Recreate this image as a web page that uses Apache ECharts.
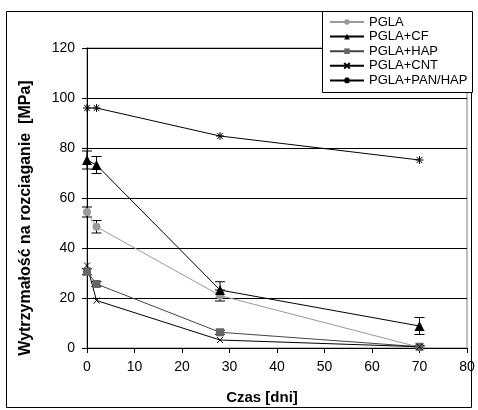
<!DOCTYPE html>
<html><head><meta charset="utf-8">
<script src="https://cdn.jsdelivr.net/npm/echarts@6/dist/echarts.min.js"></script>
<style>html,body{margin:0;padding:0;background:#fff}#c{width:478px;height:410px}</style>
</head><body><div id="c"></div>
<script>
const days = [0, 2, 28, 70];
const seriesNames = ['PGLA', 'PGLA+CF', 'PGLA+HAP', 'PGLA+CNT', 'PGLA+PAN/HAP'];
const pgla = [54.4, 48.5, 21, 0.3];
const pglaErr = [2, 2.5, 2.2, 0.5];
const pglaCF = [75.2, 73.2, 23.2, 8.8];
const pglaCFErr = [3.6, 3.4, 3.3, 3.4];
const pglaHAP = [30.5, 25.6, 6.3, 0.5];
const pglaHAPErr = [1.2, 1, 0.8, 0.5];
const pglaCNT = [33, 19, 3.2, 0.5];
const pglaPANHAP = [96, 96, 84.8, 75.2];
const xTicks = [0, 10, 20, 30, 40, 50, 60, 70, 80];
const yTicks = [0, 20, 40, 60, 80, 100, 120];

const pairs = v => days.map((d, i) => [d, v[i]]);
const errData = (v, e) => days.map((d, i) => [d, v[i] - e[i], v[i] + e[i]]);

function errSeries(v, e, color) {
  return {
    type: 'custom', silent: true, z: 3,
    data: errData(v, e),
    renderItem: function (params, api) {
      const x = api.value(0);
      const lo = api.coord([x, api.value(1)]);
      const hi = api.coord([x, api.value(2)]);
      const w = 5;
      return {
        type: 'group',
        children: [
          {type: 'line', shape: {x1: lo[0], y1: lo[1], x2: hi[0], y2: hi[1]}, style: {stroke: color, lineWidth: 1}},
          {type: 'line', shape: {x1: lo[0] - w, y1: lo[1], x2: lo[0] + w, y2: lo[1]}, style: {stroke: color, lineWidth: 1}},
          {type: 'line', shape: {x1: hi[0] - w, y1: hi[1], x2: hi[0] + w, y2: hi[1]}, style: {stroke: color, lineWidth: 1}}
        ]
      };
    }
  };
}

const xSym = 'path://M0,0L10,10M10,0L0,10';
const starSym = 'path://M0,5L10,5M1.5,1.5L8.5,8.5M8.5,1.5L1.5,8.5M5,0.5L5,9.5';

const chart = echarts.init(document.getElementById('c'), null, {renderer: 'canvas'});
chart.setOption({
  animation: false,
  backgroundColor: '#fff',
  textStyle: {fontFamily: 'Liberation Sans, Arial, sans-serif'},
  grid: {left: 87, right: 11, top: 48, bottom: 62, show: true, borderColor: '#808080', borderWidth: 1, backgroundColor: 'transparent'},
  xAxis: {
    type: 'value', min: 0, max: 80, interval: 10,
    name: 'Czas [dni]', nameLocation: 'middle', nameGap: 42,
    nameTextStyle: {fontWeight: 'bold', fontSize: 15, color: '#000', padding: [0, 30, 0, 0]},
    axisLine: {show: true, onZero: false, lineStyle: {color: '#000', width: 1}},
    axisTick: {show: true, inside: false, length: 5, lineStyle: {color: '#000'}},
    axisLabel: {fontSize: 14, color: '#000', margin: 12, formatter: v => xTicks.includes(v) ? String(v) : ''},
    splitLine: {show: false}
  },
  yAxis: {
    type: 'value', min: 0, max: 120, interval: 20,
    name: 'Wytrzymałość na rozciaganie  [MPa]', nameLocation: 'middle', nameGap: 53,
    nameTextStyle: {fontWeight: 'bold', fontSize: 16, color: '#000', padding: [0, 40, 0, 0]},
    axisLine: {show: true, lineStyle: {color: '#000', width: 1}},
    axisTick: {show: true, inside: false, length: 5, lineStyle: {color: '#000'}},
    axisLabel: {fontSize: 14, color: '#000', margin: 12, formatter: v => yTicks.includes(v) ? String(v) : ''},
    splitLine: {show: true, lineStyle: {color: '#000', width: 1}}
  },
  legend: {
    data: seriesNames,
    orient: 'vertical', left: 329, top: 15,
    itemWidth: 34, itemHeight: 7, itemGap: 0.6,
    textStyle: {fontSize: 13, color: '#000', lineHeight: 14},
    padding: 0, z: 10
  },
  graphic: [
    {type: 'rect', shape: {x: 6.5, y: 11.5, width: 465, height: 396}, style: {fill: 'none', stroke: '#000', lineWidth: 1}, z: 1},
    {type: 'rect', shape: {x: 322.5, y: 11.5, width: 150, height: 81}, style: {fill: '#fff', stroke: '#000', lineWidth: 1}, z: 8}
  ],
  series: [
    {name: 'PGLA', type: 'line', data: pairs(pgla), symbol: 'circle', symbolSize: 8,
     lineStyle: {color: '#999', width: 1}, itemStyle: {color: '#999'}, z: 4},
    {name: 'PGLA+CF', type: 'line', data: pairs(pglaCF), symbol: 'triangle', symbolSize: 10,
     lineStyle: {color: '#000', width: 1}, itemStyle: {color: '#000'}, z: 4},
    {name: 'PGLA+HAP', type: 'line', data: pairs(pglaHAP), symbol: 'rect', symbolSize: 8,
     lineStyle: {color: '#444', width: 1}, itemStyle: {color: '#666'}, z: 4},
    {name: 'PGLA+CNT', type: 'line', data: pairs(pglaCNT), symbol: xSym, symbolSize: 6,
     lineStyle: {color: '#000', width: 1}, itemStyle: {color: '#000', borderColor: '#000', borderWidth: 1}, z: 4},
    {name: 'PGLA+PAN/HAP', type: 'line', data: pairs(pglaPANHAP), symbol: starSym, symbolSize: 8,
     lineStyle: {color: '#000', width: 1}, itemStyle: {color: '#000', borderColor: '#000', borderWidth: 1}, z: 4},
    errSeries(pgla, pglaErr, '#000'),
    errSeries(pglaCF, pglaCFErr, '#000'),
    errSeries(pglaHAP, pglaHAPErr, '#000')
  ]
});
</script></body></html>
